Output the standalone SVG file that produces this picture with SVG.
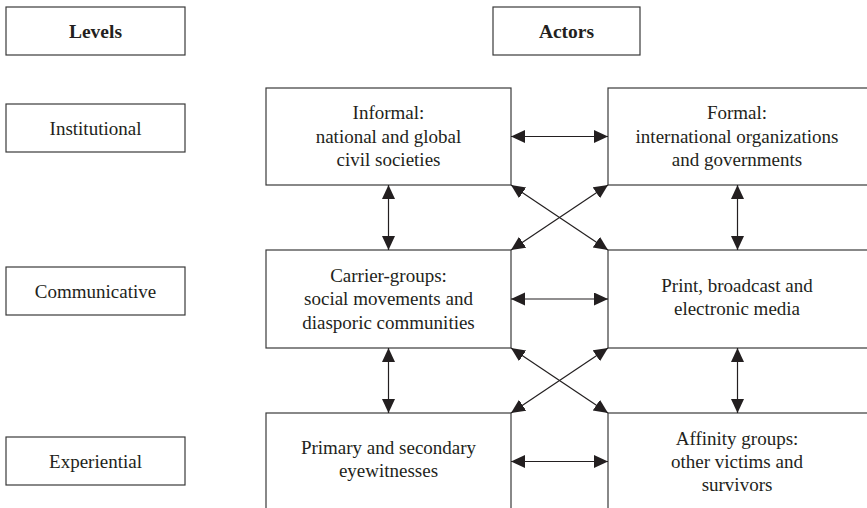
<svg xmlns="http://www.w3.org/2000/svg" width="867" height="508" viewBox="0 0 867 508">
<defs>
<marker id="ah" markerUnits="userSpaceOnUse" markerWidth="15" markerHeight="14" refX="14" refY="6.5" orient="auto-start-reverse">
<path d="M0,0 L14,6.5 L0,13 z" fill="#231f20"/>
</marker>
<style>
.box{fill:#fff;stroke:#3a3a3a;stroke-width:1.2}
.t{font-family:"Liberation Serif","Times New Roman",serif;font-size:19px;fill:#231f20;text-anchor:middle}
.b{font-weight:bold;font-size:19.5px}
.c{stroke:#231f20;stroke-width:1.2;fill:none;marker-start:url(#ah);marker-end:url(#ah)}
</style>
</defs>
<rect width="867" height="508" fill="#fff"/>

<g id="levels">
<rect class="box" x="6" y="7" width="179" height="48"/>
<text class="t b" x="95.5" y="37.5">Levels</text>
</g>
<g id="actors">
<rect class="box" x="493" y="7" width="147" height="48"/>
<text class="t b" x="566.5" y="37.5">Actors</text>
</g>
<g id="institutional">
<rect class="box" x="6" y="104" width="179" height="48"/>
<text class="t" x="95.5" y="134.5">Institutional</text>
</g>
<g id="communicative">
<rect class="box" x="6" y="267" width="179" height="48"/>
<text class="t" x="95.5" y="297.5">Communicative</text>
</g>
<g id="experiential">
<rect class="box" x="6" y="437" width="179" height="48"/>
<text class="t" x="95.5" y="467.5">Experiential</text>
</g>

<g id="informal">
<rect class="box" x="266" y="88" width="245" height="97"/>
<text class="t" x="388.5" y="119">Informal:</text>
<text class="t" x="388.5" y="142.5">national and global</text>
<text class="t" x="388.5" y="166">civil societies</text>
</g>
<g id="formal">
<rect class="box" x="608" y="88" width="264" height="97"/>
<text class="t" x="737" y="119">Formal:</text>
<text class="t" x="737" y="142.5">international organizations</text>
<text class="t" x="737" y="166">and governments</text>
</g>
<g id="carrier">
<rect class="box" x="266" y="250" width="245" height="98"/>
<text class="t" x="388.5" y="281.5">Carrier-groups:</text>
<text class="t" x="388.5" y="305">social movements and</text>
<text class="t" x="388.5" y="328.5">diasporic communities</text>
</g>
<g id="media">
<rect class="box" x="608" y="250" width="264" height="98"/>
<text class="t" x="737" y="291.5">Print, broadcast and</text>
<text class="t" x="737" y="315">electronic media</text>
</g>
<g id="eyewitnesses">
<rect class="box" x="266" y="413" width="245" height="110"/>
<text class="t" x="388.5" y="454">Primary and secondary</text>
<text class="t" x="388.5" y="477">eyewitnesses</text>
</g>
<g id="affinity">
<rect class="box" x="608" y="413" width="264" height="110"/>
<text class="t" x="737" y="445">Affinity groups:</text>
<text class="t" x="737" y="467.5">other victims and</text>
<text class="t" x="737" y="491">survivors</text>
</g>

<g id="connectors">
<line class="c" x1="511" y1="136.5" x2="608" y2="136.5"/>
<line class="c" x1="511" y1="299" x2="608" y2="299"/>
<line class="c" x1="511" y1="461.5" x2="608" y2="461.5"/>
<line class="c" x1="388.5" y1="185" x2="388.5" y2="250"/>
<line class="c" x1="737.5" y1="185" x2="737.5" y2="250"/>
<line class="c" x1="388.5" y1="348" x2="388.5" y2="413"/>
<line class="c" x1="737.5" y1="348" x2="737.5" y2="413"/>
<line class="c" x1="511" y1="185" x2="608" y2="250"/>
<line class="c" x1="608" y1="185" x2="511" y2="250"/>
<line class="c" x1="511" y1="348" x2="608" y2="413"/>
<line class="c" x1="608" y1="348" x2="511" y2="413"/>
</g>
</svg>
